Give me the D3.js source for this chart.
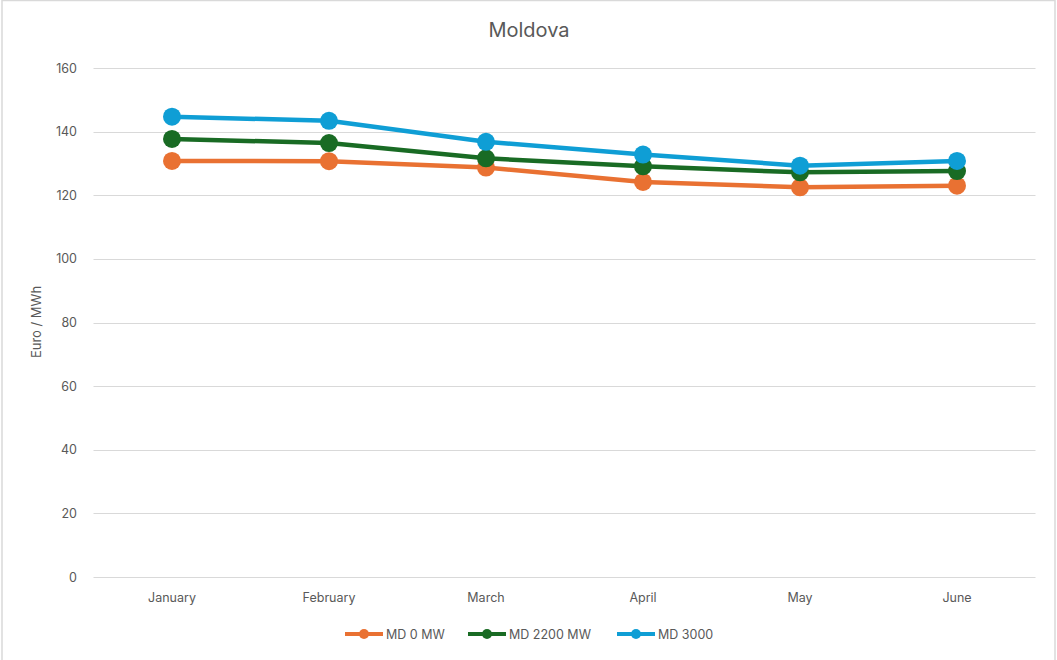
<!DOCTYPE html>
<html>
<head>
<meta charset="utf-8">
<script src="https://cdn.jsdelivr.net/npm/d3@7"></script>
<style>
  body { margin: 0; background: #fff; }
  svg text { font-family: Inter, "Open Sans", sans-serif; fill: #595959; }
</style>
</head>
<body>
<svg width="1057" height="660"></svg>
<script>
const months = ['January', 'February', 'March', 'April', 'May', 'June'];
const md0 = [130.8, 130.7, 128.7, 124.2, 122.5, 123.0];
const md2200 = [137.7, 136.4, 131.6, 129.1, 127.2, 127.6];
const md3000 = [144.7, 143.4, 136.8, 132.8, 129.3, 130.8];
const yTicks = [0, 20, 40, 60, 80, 100, 120, 140, 160];

const series = [
  {name: 'MD 0 MW', values: md0, color: '#E97132'},
  {name: 'MD 2200 MW', values: md2200, color: '#196B24'},
  {name: 'MD 3000', values: md3000, color: '#0F9ED5'}
];

const svg = d3.select('svg');

// outer border
svg.append('rect')
  .attr('x', 2).attr('y', 0.5).attr('width', 1053).attr('height', 661)
  .attr('fill', 'none').attr('stroke', '#d9d9d9').attr('stroke-width', 1.5);

const plotLeft = 93.5, plotRight = 1035.5, plotTop = 68, plotBottom = 577;

const x = d3.scaleBand().domain(months).range([plotLeft, plotRight]);
const y = d3.scaleLinear().domain([0, 160]).range([plotBottom, plotTop]);

// grid
svg.append('g').selectAll('line')
  .data(yTicks).enter().append('line')
  .attr('x1', plotLeft).attr('x2', plotRight)
  .attr('y1', d => Math.round(y(d)) + 0.5).attr('y2', d => Math.round(y(d)) + 0.5)
  .attr('stroke', '#d9d9d9').attr('stroke-width', 1.2);

// y labels
svg.append('g').selectAll('text')
  .data(yTicks).enter().append('text')
  .attr('x', 77).attr('y', d => y(d) + 4.5)
  .attr('text-anchor', 'end').attr('font-size', 12.5)
  .text(d => d);

// x labels
svg.append('g').selectAll('text')
  .data(months).enter().append('text')
  .attr('x', d => x(d) + x.bandwidth() / 2).attr('y', 602)
  .attr('text-anchor', 'middle').attr('font-size', 12.5)
  .text(d => d);

// title
svg.append('text')
  .attr('x', 529).attr('y', 37).attr('text-anchor', 'middle')
  .attr('font-size', 20).text('Moldova');

// y axis title
svg.append('text')
  .attr('transform', 'translate(41,322) rotate(-90)')
  .attr('text-anchor', 'middle').attr('font-size', 13)
  .text('Euro / MWh');

const line = d3.line()
  .x((d, i) => x(months[i]) + x.bandwidth() / 2)
  .y(d => y(d));

series.forEach(s => {
  const g = svg.append('g');
  g.append('path')
    .attr('d', line(s.values))
    .attr('fill', 'none').attr('stroke', s.color)
    .attr('stroke-width', 4.5).attr('stroke-linejoin', 'round');
  g.selectAll('circle')
    .data(s.values).enter().append('circle')
    .attr('cx', (d, i) => x(months[i]) + x.bandwidth() / 2)
    .attr('cy', d => y(d))
    .attr('r', 9).attr('fill', s.color);
});

// legend
const legendX = [345, 468, 617];
const legend = svg.append('g');
series.forEach((s, i) => {
  const lx = legendX[i];
  legend.append('line')
    .attr('x1', lx).attr('x2', lx + 38).attr('y1', 634).attr('y2', 634)
    .attr('stroke', s.color).attr('stroke-width', 4);
  legend.append('circle')
    .attr('cx', lx + 19).attr('cy', 634).attr('r', 5).attr('fill', s.color);
  legend.append('text')
    .attr('x', lx + 41).attr('y', 638.5).attr('font-size', 12.5)
    .text(s.name);
});
</script>
</body>
</html>
